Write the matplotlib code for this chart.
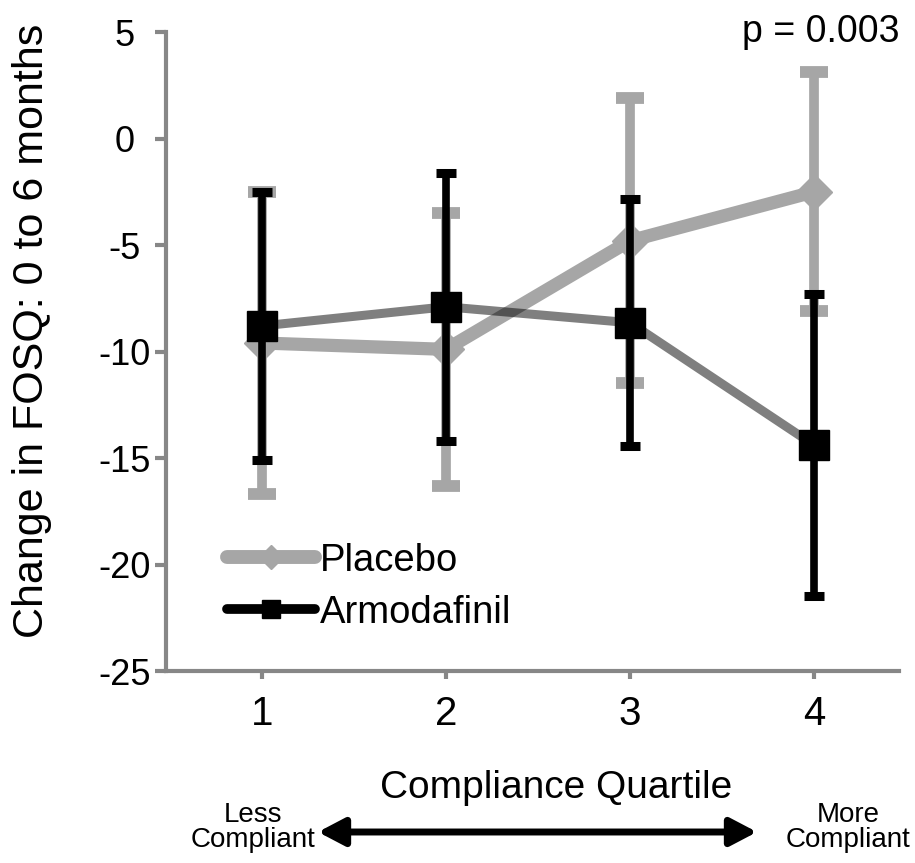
import matplotlib
matplotlib.use("Agg")
import matplotlib.pyplot as plt
from matplotlib.lines import Line2D
from matplotlib.patches import FancyArrowPatch

plt.rcParams['font.family'] = ['Liberation Sans', 'DejaVu Sans']
plt.rcParams['axes.unicode_minus'] = False

# data
quartiles = [1, 2, 3, 4]
placebo = [-9.6, -9.9, -4.8, -2.5]
placebo_err = [7.1, 6.4, 6.7, 5.6]
armod = [-8.8, -7.9, -8.65, -14.4]
armod_err = [6.3, 6.3, 5.8, 7.1]

light = '#a6a6a6'
axis_gray = '#878787'

W, H = 915, 863
fig = plt.figure(figsize=(W / 100, H / 100), dpi=100)
ax = fig.add_axes([166 / W, 1 - 671 / H, (899 - 166) / W, (671 - 32) / H])

# placebo
ax.errorbar(quartiles, placebo, yerr=placebo_err, fmt='none', ecolor=light,
            elinewidth=7, capsize=10, capthick=8.5, zorder=2)
ax.plot(quartiles, placebo, color=light, lw=9.5, marker='D', ms=18,
        solid_joinstyle='miter', zorder=3)

# armodafinil
ax.plot(quartiles, armod, color='black', alpha=0.5, lw=6.5, zorder=4)
ax.errorbar(quartiles, armod, yerr=armod_err, fmt='none', ecolor='black',
            elinewidth=5.5, capsize=7, capthick=6.5, zorder=5)
ax.plot(quartiles, armod, ls='none', marker='s', ms=21.6, color='black', zorder=6)

ax.set_xlim(0.48, 4.46)
ax.set_ylim(-25, 5)
ax.set_xticks(quartiles)
ax.set_yticks(range(-25, 6, 5))
ax.tick_params(axis='both', direction='out', length=6, width=3, color=axis_gray)
ax.tick_params(axis='y', labelsize=26, pad=22, length=8)
ax.tick_params(axis='x', labelsize=29, pad=11)
for lbl in ax.get_yticklabels():
    lbl.set_ha('center')
for s in ['top', 'right']:
    ax.spines[s].set_visible(False)
for s in ['left', 'bottom']:
    ax.spines[s].set_color(axis_gray)
    ax.spines[s].set_linewidth(3)

ax.set_ylabel('Change in FOSQ: 0 to 6 months', fontsize=31)
ax.yaxis.set_label_coords((52 - 166) / 733, (671 - 331) / 639)
ax.set_xlabel('Compliance Quartile', fontsize=28)
ax.xaxis.set_label_coords((556 - 166) / 733, (671 - 770) / 639)

ax.text(1.0, 1.0, 'p = 0.003', transform=ax.transAxes, ha='right', va='center',
        fontsize=27)

handles = [
    Line2D([], [], color=light, lw=10, marker='D', ms=12, solid_capstyle='round'),
    Line2D([], [], color='black', lw=7, marker='s', ms=13, solid_capstyle='round'),
]
ax.legend(handles, ['Placebo', 'Armodafinil'], loc='center left',
          bbox_to_anchor=(0.062, 0.132), frameon=False, fontsize=27.5,
          handlelength=2.3, handletextpad=0.15, labelspacing=0.42,
          borderaxespad=0)

# compliance direction arrow
fig.text(253 / W, 1 - 827 / H, 'Less\nCompliant', ha='center', va='center',
         fontsize=20, linespacing=0.95)
fig.text(848 / W, 1 - 827 / H, 'More\nCompliant', ha='center', va='center',
         fontsize=20, linespacing=0.95)
fig.add_artist(FancyArrowPatch(
    (318 / W, 1 - 832 / H), (757 / W, 1 - 832 / H),
    transform=fig.transFigure, arrowstyle='<|-|>,head_length=0.8,head_width=0.42',
    mutation_scale=20, lw=5, color='black', shrinkA=0, shrinkB=0))

fig.savefig('out.png', dpi=100)
